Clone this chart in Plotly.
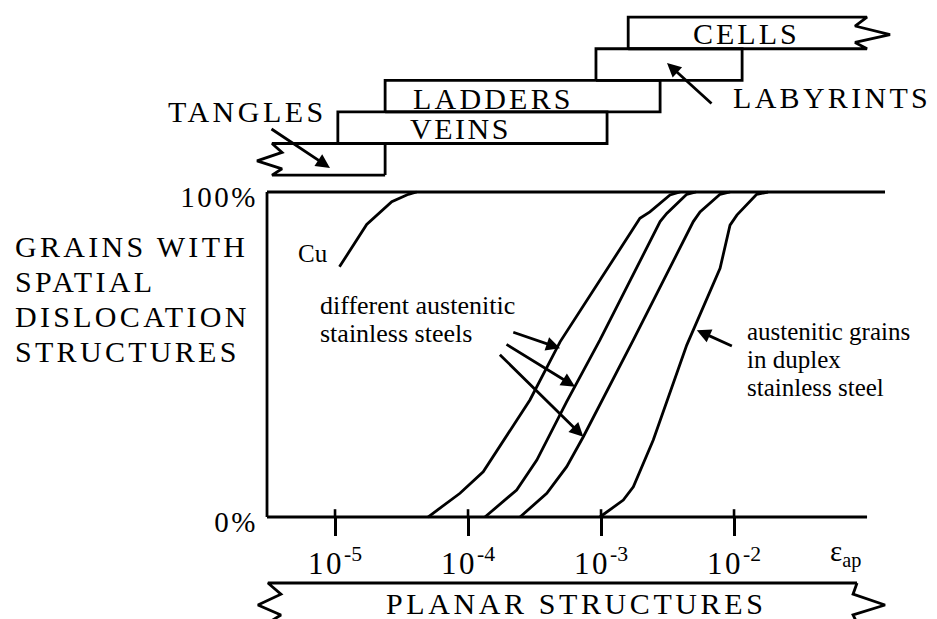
import plotly.graph_objects as go

# ---------------------------------------------------------------- data
# strain amplitude (eps_ap) vs. share of grains with spatial dislocation structures (%)
cu_strain = [1.08e-5, 1.73e-5, 2.67e-5, 3.56e-5, 4.11e-5]
cu_pct = [77, 90, 97, 99.3, 100]

steel_a_strain = [5.0e-5, 8.7e-5, 1.30e-4, 2.92e-4, 4.92e-4, 1.96e-3, 2.33e-3, 3.30e-3, 3.93e-3]
steel_a_pct = [0, 7.3, 13.9, 36.0, 53.9, 91.9, 93.9, 99.1, 100]

steel_b_strain = [1.34e-4, 2.32e-4, 3.29e-4, 5.52e-4, 9.82e-4, 2.78e-3, 3.12e-3, 4.41e-3, 5.18e-3]
steel_b_pct = [0, 8.3, 17.5, 35.5, 54.5, 90.9, 93.4, 99.3, 100]

steel_c_strain = [2.46e-4, 3.91e-4, 5.52e-4, 7.36e-4, 1.75e-3, 4.94e-3, 5.55e-3, 7.85e-3, 9.33e-3]
steel_c_pct = [0, 7.3, 15.5, 24.7, 54.5, 90.9, 93.9, 99.3, 100]

duplex_strain = [9.8e-4, 1.47e-3, 1.75e-3, 2.47e-3, 4.41e-3, 7.85e-3, 9.33e-3, 1.05e-2, 1.48e-2, 1.80e-2]
duplex_pct = [0, 5.2, 9.3, 23.7, 52.9, 76.5, 89.8, 92.9, 99.3, 100]

# strain ranges in which each dislocation structure is found
regime_names = ["TANGLES", "VEINS", "LADDERS", "LABYRINTS", "CELLS"]
regime_lo = [3.36e-6, 1.05e-5, 2.38e-5, 9.16e-4, 1.60e-3]
regime_hi = [2.38e-5, 1.11e-3, 2.78e-3, 1.15e-2, 1.0e-1]
planar_lo, planar_hi = 3.13e-6, 8.41e-2

strain_ticks = [1e-5, 1e-4, 1e-3, 1e-2]
strain_tick_mant = ["10", "10", "10", "10"]
strain_tick_exp = ["-5", "-4", "-3", "-2"]
pct_ticks = [0, 100]
pct_tick_text = ["0%", "100%"]

# ---------------------------------------------------------------- layout constants
SERIF = "Liberation Serif"
INK = "black"
LW = 2.8
LOG_RANGE = [-7.519, -0.474]
Y_RANGE = [-31.38, 159.08]
FRAME_LO = 3.08e-6      # left edge of the plot frame
AXIS_HI = 1.0e-1        # end of the strain axis line
TOP_HI = 1.365e-1       # end of the 100 % line
BAND_BASE, BAND_H = 105.2, 9.72
DEC_PX = 133.0          # pixels per decade, used for the zigzag ends

fig = go.Figure()


def line(xs, ys, width=LW):
    fig.add_trace(go.Scatter(x=xs, y=ys, mode="lines", hoverinfo="skip",
                             line=dict(color=INK, width=width), showlegend=False))


def shift(x, px):
    return x * 10 ** (px / DEC_PX)


def zigzag(xc, y_top, y_bot, side, inner, tip):
    # open end of a band: side=+1 for a right end, -1 for a left end
    h = y_top - y_bot
    return ([xc, shift(xc, -side * inner), shift(xc, side * tip), shift(xc, -side * inner), xc],
            [y_top, y_top - 0.28 * h, y_top - 0.55 * h, y_top - 0.8 * h, y_bot])


# frame
line([FRAME_LO, FRAME_LO], [0, 100])
line([FRAME_LO, TOP_HI], [100, 100])
line([FRAME_LO, AXIS_HI], [0, 0])
# tick stubs above the axis line
for t in strain_ticks:
    line([t, t], [0, 2.4], width=2.6)

# curves
for xs, ys in [(cu_strain, cu_pct), (steel_a_strain, steel_a_pct), (steel_b_strain, steel_b_pct),
               (steel_c_strain, steel_c_pct), (duplex_strain, duplex_pct)]:
    line(xs, ys)

# structure bands
for i, (name, lo, hi) in enumerate(zip(regime_names, regime_lo, regime_hi)):
    yb = BAND_BASE + i * BAND_H
    yt = yb + BAND_H
    if i == 0:
        zx, zy = zigzag(lo, yt, yb, -1, 10, 15)
        line([hi, hi, lo] + zx + [hi], [yb, yt, yt] + zy + [yb])
    elif i == len(regime_names) - 1:
        zx, zy = zigzag(hi, yt, yb, +1, 12, 23)
        line([lo, lo, hi] + zx + [lo], [yb, yt, yt] + zy + [yb])
    else:
        line([lo, hi, hi, lo, lo], [yb, yb, yt, yt, yb])

# planar structures banner below the axis
py_t, py_b = -20.3, -32.6
zl_x, zl_y = zigzag(planar_lo, py_t, py_b, -1, 13, 10)
zr_x, zr_y = zigzag(planar_hi, py_t, py_b, +1, 4, 28)
line(zl_x[::-1] + [planar_lo, planar_hi], zl_y[::-1] + [py_t, py_t])
line(zr_x, zr_y)
line([planar_lo, planar_hi], [py_b, py_b])


def label(text, lx, y, size, xanchor="center", spacing=None):
    if spacing:
        text = f'<span style="letter-spacing:{spacing}px">{text}</span>'
    fig.add_annotation(x=lx, y=y, xref="x", yref="y", text=text, showarrow=False,
                       xanchor=xanchor, yanchor="middle",
                       font=dict(family=SERIF, size=size, color=INK))


def arrow(tail_lx, tail_y, head_lx, head_y):
    fig.add_annotation(x=head_lx, y=head_y, ax=tail_lx, ay=tail_y, xref="x", yref="y",
                       axref="x", ayref="y", text="", showarrow=True, arrowhead=2,
                       arrowsize=1.0, arrowwidth=2.8, arrowcolor=INK, standoff=0)


# band labels (x in log10 units)
label("TANGLES", -5.658, 124.9, 30, spacing=3.5)
label("VEINS", -4.060, 119.6, 30, spacing=2.5)
label("LADDERS", -3.805, 128.9, 30, spacing=3.2)
label("CELLS", -1.906, 148.8, 30, spacing=3)
label("LABYRINTS", -1.263, 129.0, 30, spacing=3.3)
label("PLANAR STRUCTURES", -3.188, -26.6, 30, spacing=3.6)
arrow(-5.489, 119.7, -5.038, 107.4)
arrow(-2.158, 126.8, -2.504, 139.7)

# y-axis title block
for k, txt in enumerate(["GRAINS WITH", "SPATIAL", "DISLOCATION", "STRUCTURES"]):
    label(txt, -7.421, 83.1 - k * 10.77, 30, xanchor="left", spacing=3.3)

# in-plot notes
label("Cu", -5.165, 81.0, 25)
label("different austenitic", -5.128, 65.2, 26, xanchor="left")
label("stainless steels", -5.128, 56.6, 26, xanchor="left")
label("austenitic grains", -1.915, 57.2, 25, xanchor="left")
label("in duplex", -1.915, 48.6, 25, xanchor="left")
label("stainless steel", -1.915, 40.0, 25, xanchor="left")
label("ε<sub>ap</sub>", -1.293, -11.1, 29, xanchor="left")

arrow(-3.671, 57.0, -3.308, 51.9)
arrow(-3.722, 53.4, -3.195, 40.1)
arrow(-3.772, 50.4, -3.133, 24.7)
arrow(-2.005, 52.4, -2.280, 57.5)

strain_tick_text = [f'<span style="letter-spacing:2.5px">{m}</span><sup>{e}</sup>'
                    for m, e in zip(strain_tick_mant, strain_tick_exp)]

fig.update_layout(
    width=937, height=619,
    margin=dict(l=0, r=0, t=0, b=0),
    paper_bgcolor="white", plot_bgcolor="white",
    showlegend=False,
    xaxis=dict(type="log", range=LOG_RANGE, domain=[0, 1], anchor="free", position=0.1648,
               showline=False, showgrid=False, zeroline=False,
               tickmode="array", tickvals=strain_ticks, ticktext=strain_tick_text,
               ticks="outside", ticklen=18, tickwidth=2.6, tickcolor=INK,
               ticklabelstandoff=1,
               tickfont=dict(family=SERIF, size=31, color=INK)),
    yaxis=dict(range=Y_RANGE, domain=[0, 1], anchor="free", position=0.2850,
               showline=False, showgrid=False, zeroline=False,
               tickmode="array", tickvals=pct_ticks,
               ticktext=[f'<span style="letter-spacing:2.5px">{t}</span>' for t in pct_tick_text],
               ticks="", ticklabelstandoff=9, ticklabelshift=5,
               tickfont=dict(family=SERIF, size=29, color=INK)),
)

fig.write_html("out.html")
